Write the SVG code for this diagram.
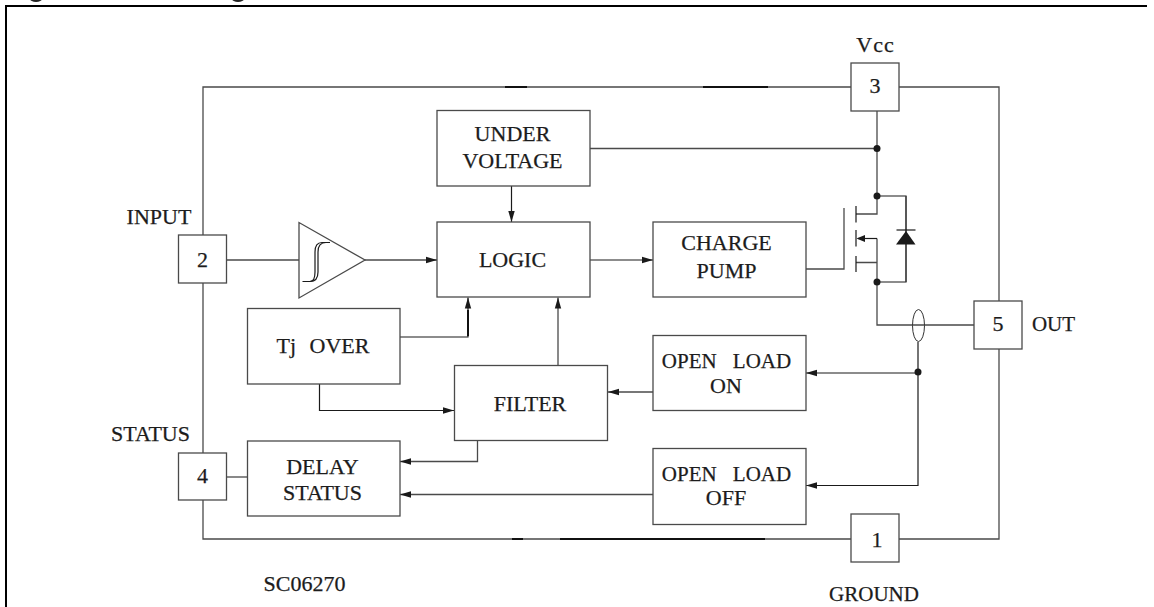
<svg xmlns="http://www.w3.org/2000/svg" width="1154" height="607" viewBox="0 0 1154 607">
<style>
text{font-family:"Liberation Serif","Times New Roman",serif;font-size:22px;fill:#1c1c1c;stroke:#1c1c1c;stroke-width:.25;text-anchor:middle}
.s{font-size:21px}
rect,.sym{fill:#fff;stroke:#4a4a4a;stroke-width:1.3}
.w{fill:none;stroke:#4a4a4a;stroke-width:1.3}
.k{fill:none;stroke:#1a1a1a;stroke-width:1.2}
.t{fill:none;stroke:#111;stroke-width:2}
.f{fill:#1a1a1a;stroke:none}
</style>
<defs>
<marker id="a" markerUnits="userSpaceOnUse" markerWidth="12" markerHeight="8" refX="11" refY="4" orient="auto"><path d="M0 .8L11 4L0 7.2z" fill="#1a1a1a"/></marker>
<circle id="d" r="3.5" fill="#1a1a1a"/>
</defs>
<g id="frame">
<path d="M6 607V6H1147" fill="none" stroke="#000" stroke-width="2"/>
<ellipse cx="36" cy="-1" rx="6" ry="3" fill="#222"/>
<ellipse cx="238" cy="-1" rx="6" ry="3" fill="#222"/>
</g>
<g id="connectors">
<path class="w" d="M851 87H203V235M203 283V453M203 500V539H851M899 539H999V349M999 301V87H899"/>
<path class="t" d="M505 87H527M703 87H768M512 539H523M560 539H765"/>
<path class="w" d="M877 111V214H856M590 148.500H877"/>
<path class="k" d="M877 196H906V282H877"/>
<path class="w" d="M906 196V282"/>
<path class="w" d="M856 262.500H877M877 238.500V325H974"/>
<path class="k" d="M877 238.500H858"/>
<path class="w" d="M806 269H844V208"/>
<path class="k" d="M856 206V222.500M856 230V246.500M856 256V272"/>
<path class="k" d="M302.500 281.500H310Q315 281.500 315 272V252Q315 242.500 322 242.500H330"/>
<path class="k" d="M310 281.500Q318 281.500 318 272V252Q318 242.500 326 242.500"/>
<path class="w" d="M226.500 260H299"/>
<path class="w" d="M365 260H437" marker-end="url(#a)"/>
<path class="k" d="M511.500 186V222" marker-end="url(#a)"/>
<path class="k" d="M590 260H653" marker-end="url(#a)"/>
<path class="k" d="M400 337H468V297.500" marker-end="url(#a)"/>
<path class="t" d="M468 336V310"/>
<path class="w" d="M558 365V297.500" marker-end="url(#a)"/>
<path class="k" d="M319.500 384V410.500H454" marker-end="url(#a)"/>
<path class="k" d="M918 342V485.500H806" marker-end="url(#a)"/>
<path class="k" d="M918 373H806" marker-end="url(#a)"/>
<path class="w" d="M653 392H608" marker-end="url(#a)"/>
<path class="w" d="M653 494.500H400" marker-end="url(#a)"/>
<path class="w" d="M477.500 441V461.500H400" marker-end="url(#a)"/>
<path class="w" d="M226.500 477H248"/>
<use href="#d" x="877" y="148.500"/>
<use href="#d" x="877" y="196"/>
<use href="#d" x="877" y="282"/>
<use href="#d" x="918" y="372"/>
<path class="f" d="M856.500 238.500L865 235V242z"/>
<path class="f" d="M906 231L915.500 244.500H896z"/>
<path class="k" d="M896.500 230H915.500"/>
<ellipse cx="918.500" cy="325.500" rx="6" ry="16" fill="none" stroke="#333" stroke-width="1"/>
</g>
<g id="pin3"><rect x="851" y="63" width="48" height="48"/><text x="875" y="93">3</text></g>
<g id="pin2"><rect x="178.500" y="235" width="48" height="48"/><text x="202.500" y="266.500">2</text></g>
<g id="pin4"><rect x="178.500" y="453" width="48" height="47"/><text x="202.500" y="482.500">4</text></g>
<g id="pin5"><rect x="974" y="301" width="48" height="48"/><text x="998" y="330.500">5</text></g>
<g id="pin1"><rect x="851" y="514" width="48" height="48"/><text x="877" y="546.500">1</text></g>
<g id="under-voltage"><rect x="437" y="110.500" width="153" height="75.500"/><text x="512.500" y="141">UNDER</text><text x="512.500" y="167.500">VOLTAGE</text></g>
<g id="logic"><rect x="437" y="222" width="153" height="75"/><text x="512.500" y="266.500">LOGIC</text></g>
<g id="charge-pump"><rect x="653" y="222" width="153" height="75"/><text x="726.500" y="250">CHARGE</text><text x="726.500" y="277.500">PUMP</text></g>
<g id="tj-over"><rect x="247.500" y="308.500" width="152.500" height="75.500"/><text x="323" y="352.500" word-spacing="8">Tj OVER</text></g>
<g id="filter"><rect x="454.500" y="365.500" width="153" height="75"/><text x="530" y="410.500">FILTER</text></g>
<g id="open-load-on"><rect x="653" y="335.500" width="153" height="75"/><text class="s" x="726.500" y="367.500" word-spacing="11">OPEN LOAD</text><text x="726" y="392.500">ON</text></g>
<g id="open-load-off"><rect x="653" y="448.500" width="153" height="76"/><text class="s" x="726.500" y="480.500" word-spacing="11">OPEN LOAD</text><text x="726" y="505">OFF</text></g>
<g id="delay-status"><rect x="247.500" y="441" width="152.500" height="75"/><text x="322.500" y="473.500">DELAY</text><text x="322.500" y="499.500">STATUS</text></g>
<g id="comparator"><path class="sym" d="M299 222.500V298L365 260z" style="fill:none"/></g>
<g id="labels">
<text x="159" y="224">INPUT</text>
<text x="150.500" y="441">STATUS</text>
<text x="875.500" y="51.500" letter-spacing="1">Vcc</text>
<text class="s" x="1053.500" y="330.500">OUT</text>
<text class="s" x="874" y="601">GROUND</text>
<text x="304.500" y="590.500">SC06270</text>
</g>
</svg>
